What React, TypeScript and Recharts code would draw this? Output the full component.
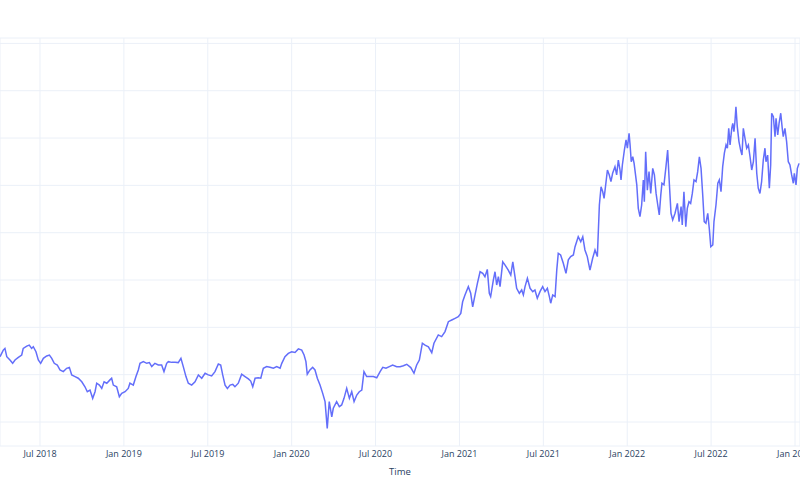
import { LineChart, Line, XAxis, YAxis, CartesianGrid } from "recharts"

// decimal years
const times = [
  2018.262, 2018.281, 2018.291, 2018.302, 2018.321, 2018.337, 2018.351, 2018.371, 2018.391, 2018.4,
  2018.421, 2018.436, 2018.45, 2018.46, 2018.476, 2018.49, 2018.504, 2018.52, 2018.54, 2018.556,
  2018.57, 2018.585, 2018.603, 2018.619, 2018.639, 2018.659, 2018.675, 2018.689, 2018.709, 2018.728,
  2018.749, 2018.768, 2018.782, 2018.798, 2018.814, 2018.828, 2018.838, 2018.854, 2018.868, 2018.882,
  2018.898, 2018.917, 2018.927, 2018.937, 2018.957, 2018.973, 2018.987, 2019.007, 2019.026, 2019.036,
  2019.056, 2019.072, 2019.086, 2019.096, 2019.116, 2019.136, 2019.152, 2019.166, 2019.185, 2019.205,
  2019.225, 2019.239, 2019.255, 2019.265, 2019.285, 2019.305, 2019.324, 2019.34, 2019.354, 2019.37,
  2019.384, 2019.404, 2019.424, 2019.444, 2019.464, 2019.484, 2019.503, 2019.523, 2019.543, 2019.563,
  2019.577, 2019.589, 2019.603, 2019.617, 2019.633, 2019.649, 2019.662, 2019.682, 2019.702, 2019.722,
  2019.742, 2019.756, 2019.768, 2019.782, 2019.801, 2019.816, 2019.831, 2019.851, 2019.871, 2019.891,
  2019.911, 2019.931, 2019.941, 2019.96, 2019.98, 2020.0, 2020.02, 2020.04, 2020.06, 2020.074,
  2020.085, 2020.093, 2020.109, 2020.125, 2020.139, 2020.153, 2020.169, 2020.185, 2020.199, 2020.212,
  2020.224, 2020.239, 2020.248, 2020.268, 2020.284, 2020.298, 2020.312, 2020.328, 2020.344, 2020.358,
  2020.372, 2020.388, 2020.403, 2020.418, 2020.431, 2020.447, 2020.467, 2020.487, 2020.507, 2020.527,
  2020.543, 2020.562, 2020.582, 2020.602, 2020.626, 2020.646, 2020.666, 2020.686, 2020.71, 2020.729,
  2020.745, 2020.761, 2020.779, 2020.795, 2020.815, 2020.835, 2020.848, 2020.874, 2020.894, 2020.914,
  2020.934, 2020.954, 2020.974, 2020.993, 2021.008, 2021.019, 2021.033, 2021.053, 2021.067, 2021.079,
  2021.093, 2021.107, 2021.123, 2021.139, 2021.152, 2021.166, 2021.178, 2021.186, 2021.202, 2021.212,
  2021.222, 2021.232, 2021.242, 2021.258, 2021.272, 2021.291, 2021.306, 2021.318, 2021.331, 2021.341,
  2021.357, 2021.371, 2021.381, 2021.391, 2021.405, 2021.421, 2021.437, 2021.45, 2021.464, 2021.48,
  2021.496, 2021.51, 2021.524, 2021.536, 2021.544, 2021.556, 2021.57, 2021.58, 2021.589, 2021.603,
  2021.619, 2021.635, 2021.649, 2021.663, 2021.679, 2021.689, 2021.708, 2021.723, 2021.735, 2021.748,
  2021.762, 2021.778, 2021.794, 2021.808, 2021.822, 2021.834, 2021.844, 2021.854, 2021.862, 2021.868,
  2021.882, 2021.893, 2021.903, 2021.913, 2021.927, 2021.937, 2021.947, 2021.957, 2021.963, 2021.971,
  2021.983, 2021.993, 2022.001, 2022.011, 2022.017, 2022.024, 2022.033, 2022.041, 2022.057, 2022.066,
  2022.076, 2022.086, 2022.096, 2022.102, 2022.11, 2022.12, 2022.13, 2022.14, 2022.152, 2022.162,
  2022.172, 2022.182, 2022.191, 2022.2, 2022.207, 2022.219, 2022.231, 2022.241, 2022.251, 2022.261,
  2022.271, 2022.285, 2022.299, 2022.309, 2022.321, 2022.328, 2022.338, 2022.349, 2022.358, 2022.368,
  2022.378, 2022.388, 2022.398, 2022.41, 2022.42, 2022.43, 2022.44, 2022.45, 2022.459, 2022.469,
  2022.48, 2022.489, 2022.498, 2022.51, 2022.517, 2022.529, 2022.54, 2022.549, 2022.559, 2022.569,
  2022.579, 2022.589, 2022.597, 2022.605, 2022.613, 2022.623, 2022.629, 2022.636, 2022.642, 2022.648,
  2022.656, 2022.666, 2022.676, 2022.684, 2022.692, 2022.702, 2022.712, 2022.722, 2022.732, 2022.742,
  2022.752, 2022.762, 2022.772, 2022.781, 2022.791, 2022.801, 2022.811, 2022.821, 2022.827, 2022.837,
  2022.847, 2022.855, 2022.861, 2022.871, 2022.881, 2022.887, 2022.897, 2022.905, 2022.915, 2022.924,
  2022.93, 2022.94, 2022.95, 2022.96, 2022.97, 2022.98, 2022.99, 2022.996, 2023.006, 2023.014,
  2023.024,
]

const values = [
  67.6, 70.4, 71.1, 67.6, 66.2, 64.8, 66.2, 67.3, 68.3, 71.1,
  72.1, 72.5, 71.1, 71.8, 69.7, 66.2, 64.8, 66.9, 67.9, 68.3,
  66.9, 64.8, 64.1, 62.0, 61.3, 62.7, 63.1, 59.9, 59.2, 58.5,
  57.0, 54.9, 52.8, 53.5, 50.0, 52.8, 56.4, 55.6, 54.2, 57.0,
  56.4, 57.8, 58.5, 55.6, 54.9, 50.7, 52.1, 52.8, 54.2, 56.4,
  55.6, 59.2, 62.0, 64.8, 65.5, 64.8, 65.1, 63.4, 64.8, 64.1,
  64.1, 61.3, 64.8, 65.5, 65.2, 65.2, 65.1, 66.9, 63.4, 59.2,
  56.4, 55.6, 57.0, 59.9, 58.5, 60.6, 59.9, 59.5, 61.3, 64.5,
  64.1, 59.9, 55.6, 54.2, 55.6, 55.9, 54.9, 56.4, 60.2, 59.2,
  58.2, 57.3, 54.9, 58.5, 58.7, 58.5, 62.7, 63.4, 63.1, 62.7,
  63.4, 62.7, 64.8, 67.6, 69.0, 69.7, 69.4, 70.9, 70.4, 68.3,
  65.5, 60.2, 62.0, 63.1, 62.0, 58.5, 55.6, 52.1, 48.6, 37.3,
  48.6, 42.2, 45.8, 48.6, 46.5, 47.2, 50.0, 54.2, 50.0, 52.8,
  48.6, 51.4, 52.8, 53.5, 61.3, 59.2, 59.2, 59.2, 58.7, 61.3,
  63.1, 62.7, 63.4, 64.1, 63.4, 63.4, 63.8, 64.4, 63.0, 60.6,
  64.1, 66.2, 73.3, 72.5, 71.8, 69.3, 73.3, 76.8, 76.1, 78.2,
  82.4, 83.1, 83.8, 84.5, 85.9, 90.8, 93.7, 97.2, 94.4, 88.7,
  93.7, 98.6, 103.5, 102.8, 101.4, 104.5, 94.4, 93.0, 100.0, 103.5,
  97.9, 101.4, 97.2, 107.7, 106.3, 104.2, 102.1, 107.7, 101.4, 96.5,
  94.4, 95.8, 93.7, 97.2, 100.7, 96.5, 95.1, 95.8, 92.3, 95.1,
  97.2, 95.1, 96.5, 93.0, 90.2, 93.7, 93.0, 104.2, 111.3, 110.6,
  107.1, 102.8, 108.5, 109.9, 110.6, 114.1, 118.3, 116.2, 118.3, 112.7,
  109.9, 104.2, 109.2, 112.7, 109.9, 131.7, 139.4, 137.3, 134.5, 138.0,
  146.5, 144.4, 141.6, 145.1, 147.9, 144.4, 150.7, 146.5, 142.3, 148.6,
  154.9, 159.2, 155.7, 162.0, 157.1, 150.0, 152.1, 149.3, 140.2, 130.3,
  126.8, 131.7, 142.3, 133.1, 154.2, 138.0, 145.8, 136.6, 147.2, 144.4,
  136.6, 131.7, 127.5, 135.9, 140.9, 140.2, 147.9, 154.9, 140.9, 128.2,
  125.4, 128.2, 132.4, 124.7, 131.0, 123.3, 137.3, 122.5, 130.3, 133.1,
  132.4, 136.6, 142.3, 141.6, 145.8, 152.1, 147.2, 135.9, 124.7, 124.0,
  128.2, 121.8, 114.1, 114.8, 124.7, 131.7, 140.9, 142.3, 137.3, 147.9,
  153.6, 157.1, 155.7, 164.1, 157.1, 164.1, 166.2, 162.7, 166.9, 173.2,
  164.8, 158.5, 154.9, 152.8, 164.1, 159.9, 155.7, 157.1, 152.1, 146.5,
  150.0, 159.9, 145.1, 138.8, 136.6, 141.6, 150.7, 155.7, 150.0, 152.8,
  138.8, 148.6, 170.5, 169.0, 160.6, 168.3, 161.3, 166.2, 170.5, 164.1,
  160.6, 164.1, 158.5, 150.0, 148.6, 144.4, 140.9, 145.1, 140.2, 147.2,
  149.3,
]

const xTicks = [2018.5, 2019, 2019.5, 2020, 2020.5, 2021, 2021.5, 2022, 2022.5, 2023]
const yTicks = [40, 60, 80, 100, 120, 140, 160, 180, 200]

const data = times.map((t, i) => ({ t, value: values[i] }))

const formatTick = (t: number) => `${t % 1 === 0 ? "Jan" : "Jul"} ${Math.floor(t)}`

export default function App() {
  return (
    <div style={{ position: "absolute", left: 0, top: 0, background: "#fff" }}>
      <LineChart width={800} height={500} data={data} margin={{ top: 38, right: 0, bottom: 0, left: 0 }}>
        <CartesianGrid stroke="#EBF0F8" strokeWidth={1} />
        <XAxis
          dataKey="t"
          type="number"
          domain={[2018.2616, 2023.0298]}
          ticks={xTicks}
          interval={0}
          tickFormatter={formatTick}
          axisLine={false}
          tickLine={false}
          tickSize={0}
          tickMargin={5}
          height={54}
          tick={{ fill: "#2a3f5f", fontSize: 9, fontFamily: "'Open Sans', sans-serif" }}
          label={{
            value: "Time",
            position: "insideBottom",
            offset: 25,
            fill: "#2a3f5f",
            fontSize: 9.5,
            fontFamily: "'Open Sans', sans-serif",
          }}
        />
        <YAxis hide type="number" domain={[29.86, 202.28]} ticks={yTicks} />
        <Line
          type="linear"
          dataKey="value"
          stroke="#636efa"
          strokeWidth={1.5}
          dot={false}
          isAnimationActive={false}
        />
      </LineChart>
    </div>
  )
}
